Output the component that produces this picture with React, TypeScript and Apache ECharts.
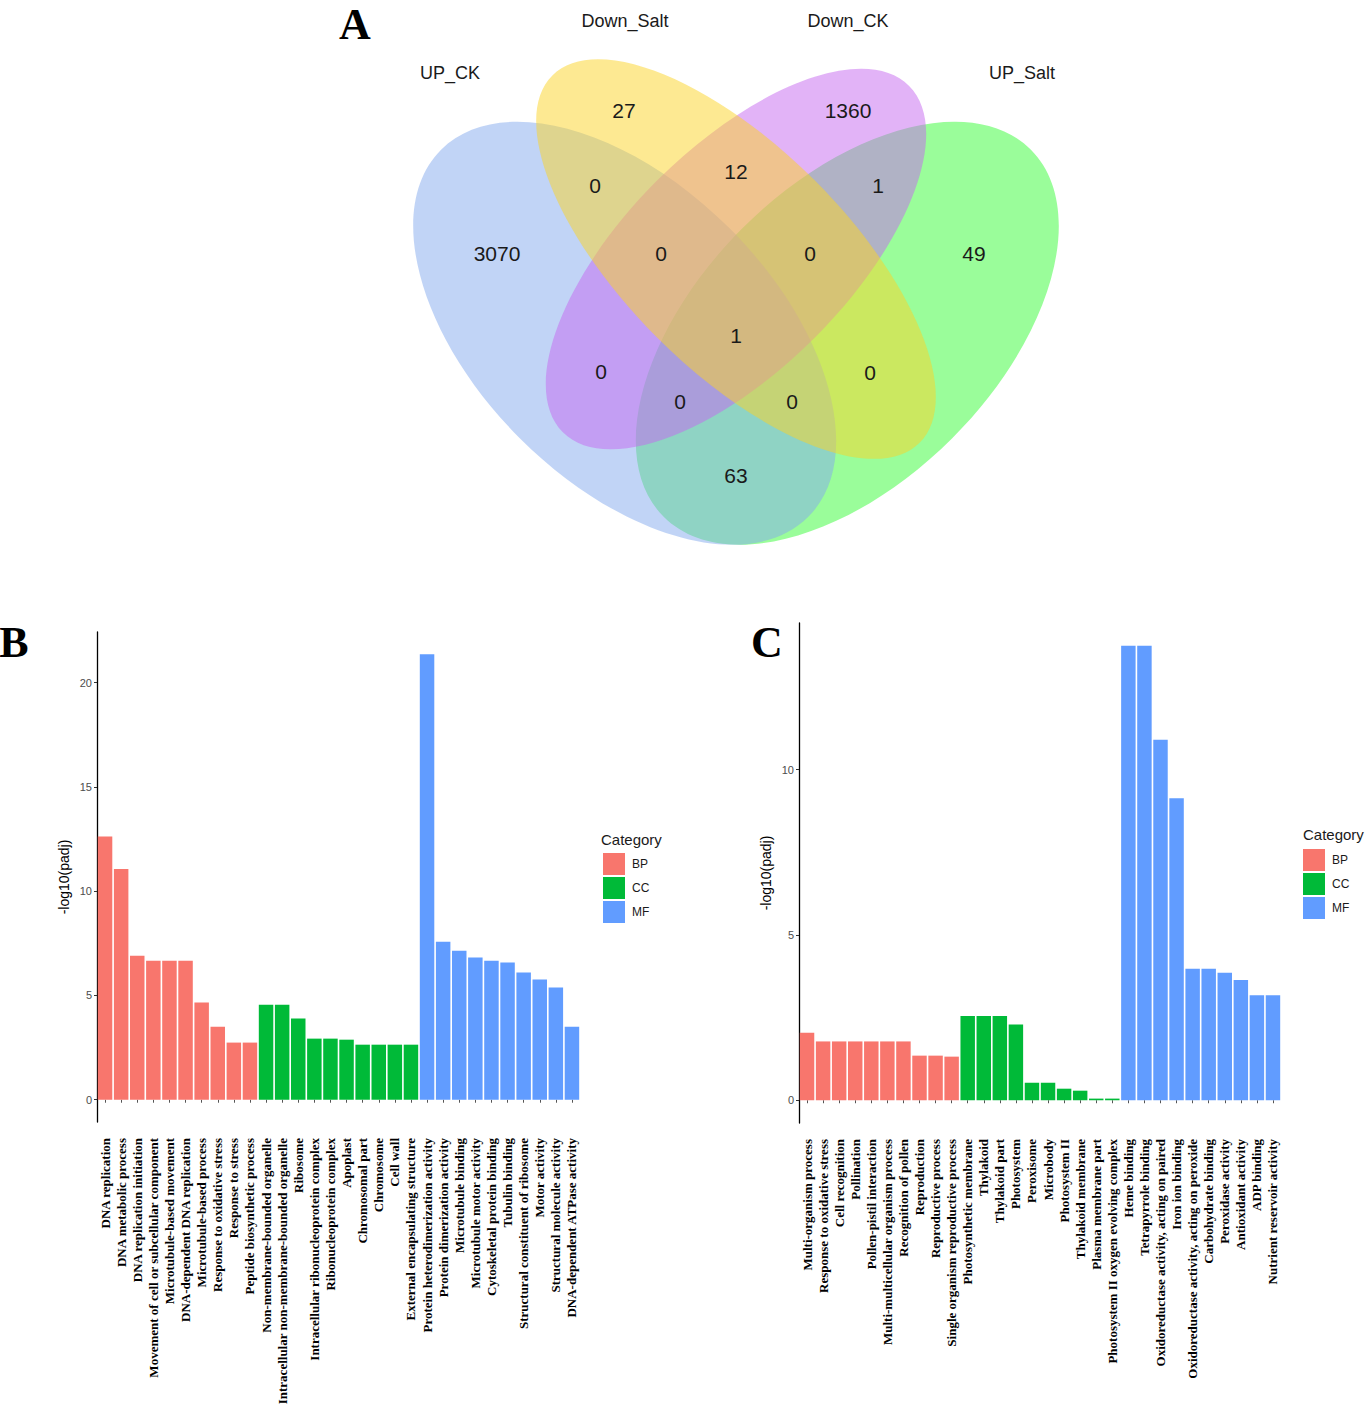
import React, { useEffect, useRef } from "react";
import * as echarts from "echarts";

// ---------------- Venn (panel A) data ----------------
const vennSetNames = ["UP_CK", "Down_Salt", "Down_CK", "UP_Salt"];
const vennCounts = [3070, 27, 1360, 49, 0, 12, 1, 0, 0, 1, 0, 0, 0, 0, 63];

// ---------------- Panel B data ----------------
const bBPLabels = [
  "DNA replication",
  "DNA metabolic process",
  "DNA replication initiation",
  "Movement of cell or subcellular component",
  "Microtubule-based movement",
  "DNA-dependent DNA replication",
  "Microtubule-based process",
  "Response to oxidative stress",
  "Response to stress",
  "Peptide biosynthetic process",
];
const bBPValues = [12.62, 11.06, 6.91, 6.67, 6.67, 6.67, 4.66, 3.5, 2.74, 2.74];
const bCCLabels = [
  "Non-membrane-bounded organelle",
  "Intracellular non-membrane-bounded organelle",
  "Ribosome",
  "Intracellular ribonucleoprotein complex",
  "Ribonucleoprotein complex",
  "Apoplast",
  "Chromosomal part",
  "Chromosome",
  "Cell wall",
  "External encapsulating structure",
];
const bCCValues = [4.56, 4.56, 3.89, 2.93, 2.93, 2.88, 2.64, 2.64, 2.64, 2.64];
const bMFLabels = [
  "Protein heterodimerization activity",
  "Protein dimerization activity",
  "Microtubule binding",
  "Microtubule motor activity",
  "Cytoskeletal protein binding",
  "Tubulin binding",
  "Structural constituent of ribosome",
  "Motor activity",
  "Structural molecule activity",
  "DNA-dependent ATPase activity",
];
const bMFValues = [21.36, 7.58, 7.15, 6.82, 6.67, 6.58, 6.1, 5.76, 5.38, 3.5];

// ---------------- Panel C data ----------------
const cBPLabels = [
  "Multi-organism process",
  "Response to oxidative stress",
  "Cell recognition",
  "Pollination",
  "Pollen-pistil interaction",
  "Multi-multicellular organism process",
  "Recognition of pollen",
  "Reproduction",
  "Reproductive process",
  "Single organism reproductive process",
];
const cBPValues = [2.04, 1.78, 1.78, 1.78, 1.78, 1.78, 1.78, 1.35, 1.35, 1.32];
const cCCLabels = [
  "Photosynthetic membrane",
  "Thylakoid",
  "Thylakoid part",
  "Photosystem",
  "Peroxisome",
  "Microbody",
  "Photosystem II",
  "Thylakoid membrane",
  "Plasma membrane part",
  "Photosystem II oxygen evolving complex",
];
const cCCValues = [2.55, 2.55, 2.55, 2.29, 0.53, 0.53, 0.35, 0.29, 0.05, 0.05];
const cMFLabels = [
  "Heme binding",
  "Tetrapyrrole binding",
  "Oxidoreductase activity, acting on paired",
  "Iron ion binding",
  "Oxidoreductase activity, acting on peroxide",
  "Carbohydrate binding",
  "Peroxidase activity",
  "Antioxidant activity",
  "ADP binding",
  "Nutrient reservoir activity",
];
const cMFValues = [13.75, 13.75, 10.91, 9.14, 3.98, 3.98, 3.86, 3.64, 3.18, 3.18];

const yTicksB = [0, 5, 10, 15, 20];
const yTicksC = [0, 5, 10];
const categoryNames = ["BP", "CC", "MF"];
const categoryColors = ["#F8766D", "#00BA38", "#619CFF"];

// ---------------- Venn layout (VennDiagram quad layout, unit coords) ----------------
const VU = 742;
const VX0 = 365;
const VY0 = 682;
// drawing order: UP_Salt (green), UP_CK (blue), Down_CK (purple), Down_Salt (yellow)
const vennEllipses = [
  { x: 0.65, y: 0.47, a: 0.35, b: 0.2, rot: 45, fill: "rgba(53,251,53,0.5)" },
  { x: 0.35, y: 0.47, a: 0.35, b: 0.2, rot: 135, fill: "rgba(131,169,237,0.5)" },
  { x: 0.5, y: 0.57, a: 0.33, b: 0.15, rot: 45, fill: "rgba(197,103,239,0.5)" },
  { x: 0.5, y: 0.57, a: 0.35, b: 0.15, rot: 135, fill: "rgba(251,211,37,0.5)" },
];
const vennNamePos = [
  [450, 73],
  [625, 21],
  [848, 21],
  [1022, 73],
];
const vennCountPos = [
  [497, 253],
  [624, 110],
  [848, 110],
  [974, 253],
  [595, 185],
  [736, 171],
  [878, 185],
  [661, 253],
  [810, 253],
  [736, 335],
  [601, 371],
  [870, 372],
  [680, 401],
  [792, 401],
  [736, 475],
];

function buildSeries(
  labels: string[][],
  values: number[][],
  axisIndex: number,
  stack: string
) {
  const total = labels.reduce((s, l) => s + l.length, 0);
  let offset = 0;
  return labels.map((group, gi) => {
    const data: (number | string)[] = new Array(total).fill("-");
    group.forEach((_, i) => {
      data[offset + i] = values[gi][i];
    });
    offset += group.length;
    return {
      name: categoryNames[gi],
      type: "bar",
      xAxisIndex: axisIndex,
      yAxisIndex: axisIndex,
      stack,
      barCategoryGap: "10%",
      itemStyle: { color: categoryColors[gi] },
      data,
    };
  });
}

function xAxisCfg(gridIndex: number, data: string[]) {
  return {
    type: "category",
    gridIndex,
    data,
    axisLine: { show: false },
    axisTick: { show: true, alignWithLabel: true, length: 3, lineStyle: { color: "#555" } },
    axisLabel: {
      rotate: 90,
      interval: 0,
      margin: 16,
      color: "#000",
      fontFamily: "Liberation Serif",
      fontWeight: "bold",
      fontSize: 13,
    },
  };
}

function yAxisCfg(gridIndex: number, min: number, max: number, ticks: number[]) {
  return {
    type: "value",
    gridIndex,
    min,
    max,
    splitLine: { show: false },
    axisLine: { show: true, lineStyle: { color: "#000", width: 1.3 } },
    axisTick: { show: true, length: 3, customValues: ticks, lineStyle: { color: "#333" } },
    axisLabel: {
      customValues: ticks,
      color: "#4d4d4d",
      fontSize: 11,
      margin: 5,
      fontFamily: "Liberation Sans",
    },
    name: "-log10(padj)",
    nameLocation: "middle",
    nameGap: 26,
    nameTextStyle: { color: "#000", fontSize: 14, fontFamily: "Liberation Sans" },
  };
}

function textEl(text: string, x: number, y: number, font: string, align = "center") {
  return {
    type: "text",
    x,
    y,
    silent: true,
    style: {
      text,
      font,
      fill: "#1a1a1a",
      align,
      textAlign: align,
      verticalAlign: "middle",
      textVerticalAlign: "middle",
    },
  };
}

export default function App() {
  const ref = useRef<HTMLDivElement>(null);

  useEffect(() => {
    if (!ref.current) return;
    const chart = echarts.init(ref.current, null, { renderer: "svg" });

    const bCats = [...bBPLabels, ...bCCLabels, ...bMFLabels];
    const cCats = [...cBPLabels, ...cCCLabels, ...cMFLabels];

    const ellipses = vennEllipses.map((e) => ({
      type: "ellipse",
      x: VX0 + e.x * VU,
      y: VY0 - e.y * VU,
      rotation: (e.rot * Math.PI) / 180,
      silent: true,
      shape: { cx: 0, cy: 0, rx: e.a * VU, ry: e.b * VU },
      style: { fill: e.fill },
    }));

    const vennNames = vennSetNames.map((n, i) =>
      textEl(n, vennNamePos[i][0], vennNamePos[i][1], "18px 'Liberation Sans', Arial, sans-serif")
    );
    const vennNums = vennCounts.map((c, i) =>
      textEl(String(c), vennCountPos[i][0], vennCountPos[i][1], "21px 'Liberation Sans', Arial, sans-serif")
    );

    const letters = [
      textEl("A", 355, 24, "bold 44px 'Liberation Serif', serif"),
      textEl("B", 14, 642, "bold 44px 'Liberation Serif', serif"),
      textEl("C", 767, 642, "bold 44px 'Liberation Serif', serif"),
    ].map((t) => ({ ...t, style: { ...t.style, fill: "#000" } }));

    const legendTitles = [
      textEl("Category", 601, 839, "15px 'Liberation Sans', Arial, sans-serif", "left"),
      textEl("Category", 1303, 834, "15px 'Liberation Sans', Arial, sans-serif", "left"),
    ];

    const legendCommon = {
      orient: "vertical",
      icon: "rect",
      itemWidth: 22,
      itemHeight: 22,
      itemGap: 2,
      padding: 0,
      data: categoryNames,
      selectedMode: false,
      textStyle: {
        fontSize: 12,
        color: "#1a1a1a",
        fontFamily: "Liberation Sans",
        padding: [0, 0, 0, 2],
      },
    };

    chart.setOption({
      animation: false,
      backgroundColor: "#fff",
      grid: [
        { left: 97, top: 632, width: 483, height: 490 },
        { left: 799, top: 623, width: 482, height: 500 },
      ],
      xAxis: [xAxisCfg(0, bCats), xAxisCfg(1, cCats)],
      yAxis: [yAxisCfg(0, -1.068, 22.43, yTicksB), yAxisCfg(1, -0.688, 14.44, yTicksC)],
      legend: [
        { ...legendCommon, left: 603, top: 853 },
        { ...legendCommon, left: 1303, top: 849 },
      ],
      series: [
        ...buildSeries([bBPLabels, bCCLabels, bMFLabels], [bBPValues, bCCValues, bMFValues], 0, "b"),
        ...buildSeries([cBPLabels, cCCLabels, cMFLabels], [cBPValues, cCCValues, cMFValues], 1, "c"),
      ],
      graphic: [...ellipses, ...vennNames, ...vennNums, ...letters, ...legendTitles],
    });

    return () => {
      chart.dispose();
    };
  }, []);

  return (
    <div
      ref={ref}
      style={{ position: "absolute", left: 0, top: 0, width: 1368, height: 1409, background: "#fff" }}
    />
  );
}
